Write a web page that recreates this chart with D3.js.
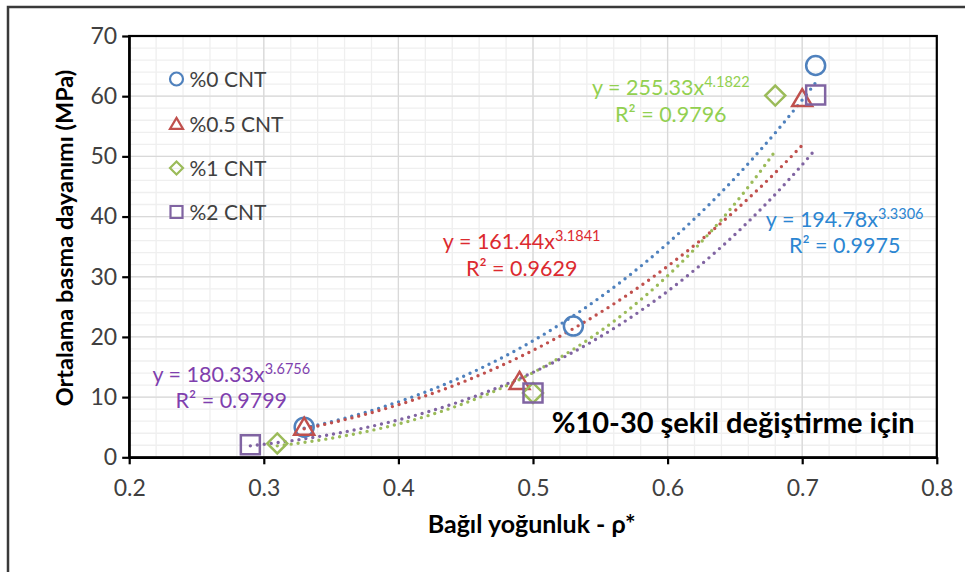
<!DOCTYPE html>
<html>
<head>
<meta charset="utf-8">
<script src="https://cdn.jsdelivr.net/npm/d3@7"></script>
<style>
  body { margin: 0; background: #fff; }
  svg { display: block; font-family: "Lato", "Open Sans", sans-serif; }
</style>
</head>
<body>
<div id="chart"></div>
<script>
// Chart data
var seriesNames = ["%0 CNT", "%0.5 CNT", "%1 CNT", "%2 CNT"];
var cnt0X = [0.33, 0.53, 0.71];
var cnt0Y = [5.0, 21.8, 65.1];
var cnt05X = [0.33, 0.49, 0.70];
var cnt05Y = [5.0, 12.6, 59.6];
var cnt1X = [0.31, 0.50, 0.68];
var cnt1Y = [2.3, 10.7, 60.1];
var cnt2X = [0.29, 0.50, 0.71];
var cnt2Y = [2.1, 10.7, 60.2];

// power trendline y = a * x^b, as printed on the chart
var fitA = [194.78, 161.44, 255.33, 180.33];
var fitB = [3.3306, 3.1841, 4.1822, 3.6756];
var fitR2 = ["0.9975", "0.9629", "0.9796", "0.9799"];

var xTicks = [0.2, 0.3, 0.4, 0.5, 0.6, 0.7, 0.8];
var yTicks = [0, 10, 20, 30, 40, 50, 60, 70];

// styles
var markerColors = ["#4f81bd", "#c0504d", "#9bbb59", "#8064a2"];
var labelColors = ["#2b86d2", "#dc2a2f", "#92d050", "#7f3fae"];
var shapes = ["circle", "triangle", "diamond", "square"];

var svgWidth = 965;
var svgHeight = 572;

var svg = d3.select("#chart").append("svg")
    .attr("width", svgWidth)
    .attr("height", svgHeight);

svg.append("rect").attr("width", svgWidth).attr("height", svgHeight).attr("fill", "#fff");

// outer chart border (runs off the picture on the right and bottom)
svg.append("rect")
    .attr("x", 8).attr("y", 7)
    .attr("width", 1000).attr("height", 1000)
    .attr("fill", "none")
    .attr("stroke", "#3a3a3a")
    .attr("stroke-width", 2.5);

var x = d3.scaleLinear().domain([0.2, 0.8]).range([129.2, 936.8]);
var y = d3.scaleLinear().domain([0, 70]).range([457.3, 36]);

var plot = svg.append("g");

// minor grid
plot.selectAll(".minx").data(d3.ticks(0.2, 0.8, 30)).enter().append("line")
    .attr("x1", d => x(d)).attr("x2", d => x(d))
    .attr("y1", y(0)).attr("y2", y(70))
    .attr("stroke", "#efefef").attr("stroke-width", 1.3);
plot.selectAll(".miny").data(d3.ticks(0, 70, 35)).enter().append("line")
    .attr("y1", d => y(d)).attr("y2", d => y(d))
    .attr("x1", x(0.2)).attr("x2", x(0.8))
    .attr("stroke", "#efefef").attr("stroke-width", 1.3);
// major grid
plot.selectAll(".majx").data(xTicks).enter().append("line")
    .attr("x1", d => x(d)).attr("x2", d => x(d))
    .attr("y1", y(0)).attr("y2", y(70))
    .attr("stroke", "#d9d9d9").attr("stroke-width", 1.3);
plot.selectAll(".majy").data(yTicks).enter().append("line")
    .attr("y1", d => y(d)).attr("y2", d => y(d))
    .attr("x1", x(0.2)).attr("x2", x(0.8))
    .attr("stroke", "#d9d9d9").attr("stroke-width", 1.3);

// plot frame
plot.append("rect")
    .attr("x", x(0.2)).attr("y", y(70))
    .attr("width", x(0.8) - x(0.2)).attr("height", y(0) - y(70))
    .attr("fill", "none").attr("stroke", "#000").attr("stroke-width", 2.2);

// axes
var xAxis = svg.append("g")
    .attr("transform", `translate(0, ${y(0)})`)
    .call(d3.axisBottom(x).tickValues(xTicks).tickFormat(d3.format(".1f"))
        .tickSize(7).tickSizeOuter(0).tickPadding(15));
var yAxis = svg.append("g")
    .attr("transform", `translate(${x(0.2)}, 0)`)
    .call(d3.axisLeft(y).tickValues(yTicks).tickFormat(d3.format("d"))
        .tickSize(7).tickSizeOuter(0).tickPadding(5));

[xAxis, yAxis].forEach(ax => {
    ax.select(".domain").attr("stroke", "#000").attr("stroke-width", 2.2);
    ax.selectAll(".tick line").attr("stroke", "#000").attr("stroke-width", 2.2);
    ax.selectAll(".tick text")
        .attr("fill", "#404040")
        .style("font-size", "23px")
        .style("font-family", "Lato, sans-serif");
});

// marker paths
function markerPath(shape, s) {
    if (shape === "circle") {
        return d3.symbol(d3.symbolCircle, Math.PI * s * s)();
    }
    if (shape === "square") {
        return `M${-s},${-s}H${s}V${s}H${-s}Z`;
    }
    if (shape === "diamond") {
        return `M0,${-s}L${s},0L0,${s}L${-s},0Z`;
    }
    // triangle
    return `M0,${-s * 0.95}L${s * 1.0},${s * 0.75}L${-s * 1.0},${s * 0.75}Z`;
}

var seriesX = [cnt0X, cnt05X, cnt1X, cnt2X];
var seriesY = [cnt0Y, cnt05Y, cnt1Y, cnt2Y];

// trendlines (dotted)
var line = d3.line().x(d => x(d[0])).y(d => y(d[1]));
seriesNames.forEach((name, i) => {
    var lo = d3.min(seriesX[i]), hi = d3.max(seriesX[i]);
    var pts = d3.range(0, 81).map(k => {
        var xv = lo + (hi - lo) * k / 80;
        return [xv, fitA[i] * Math.pow(xv, fitB[i])];
    });
    svg.append("path")
        .datum(pts)
        .attr("d", line)
        .attr("fill", "none")
        .attr("stroke", markerColors[i])
        .attr("stroke-width", 3.4)
        .attr("stroke-linecap", "round")
        .attr("stroke-dasharray", "0 7");
});

// points
seriesNames.forEach((name, i) => {
    var sz = shapes[i] === "circle" ? 9.5 : (shapes[i] === "triangle" ? 10 : (shapes[i] === "diamond" ? 10 : 9.5));
    svg.append("g").selectAll("path")
        .data(seriesX[i].map((xv, k) => [xv, seriesY[i][k]]))
        .enter().append("path")
        .attr("transform", d => `translate(${x(d[0])}, ${y(d[1])})`)
        .attr("d", markerPath(shapes[i], sz))
        .attr("fill", "none")
        .attr("stroke", markerColors[i])
        .attr("stroke-width", 2.5);
});

// legend
var legendRows = [79, 124, 168, 212];
var legend = svg.append("g");
seriesNames.forEach((name, i) => {
    var g = legend.append("g").attr("transform", `translate(176.5, ${legendRows[i]})`);
    g.append("path")
        .attr("d", markerPath(shapes[i], shapes[i] === "square" ? 6 : 6.5))
        .attr("fill", "none")
        .attr("stroke", markerColors[i])
        .attr("stroke-width", 2.2);
    g.append("text")
        .attr("x", 13).attr("y", 7.5)
        .attr("fill", "#404040")
        .style("font-size", "21px")
        .text(name);
});

// trendline equations (centre x, baseline of first line)
var eqPos = [[844.7, 226.7], [521.7, 249.3], [670.8, 95], [231.3, 381.7]];
seriesNames.forEach((name, i) => {
    var t = svg.append("text")
        .attr("x", eqPos[i][0]).attr("y", eqPos[i][1])
        .attr("text-anchor", "middle")
        .attr("fill", labelColors[i])
        .style("font-size", "21.5px");
    t.append("tspan").text(`y = ${d3.format(".2f")(fitA[i])}x`);
    t.append("tspan").attr("dy", -8).style("font-size", "14.5px").text(d3.format(".4f")(fitB[i]));
    svg.append("text")
        .attr("x", eqPos[i][0]).attr("y", eqPos[i][1] + 26.5)
        .attr("text-anchor", "middle")
        .attr("fill", labelColors[i])
        .style("font-size", "21.5px")
        .text(`R² = ${fitR2[i]}`);
});

// annotation
svg.append("text")
    .attr("x", 551.7).attr("y", 432.7)
    .attr("fill", "#000")
    .style("font-size", "29px")
    .style("font-weight", "bold")
    .text("%10-30 şekil değiştirme için");

// axis titles
svg.append("text")
    .attr("x", 531.7).attr("y", 533)
    .attr("text-anchor", "middle")
    .attr("fill", "#000")
    .style("font-size", "25px")
    .style("font-weight", "bold")
    .text("Bağıl yoğunluk - ρ*");

svg.append("text")
    .attr("transform", "translate(72.5, 238) rotate(-90)")
    .attr("text-anchor", "middle")
    .attr("fill", "#000")
    .style("font-size", "23.5px")
    .style("font-weight", "bold")
    .text("Ortalama basma dayanımı (MPa)");
</script>
</body>
</html>
